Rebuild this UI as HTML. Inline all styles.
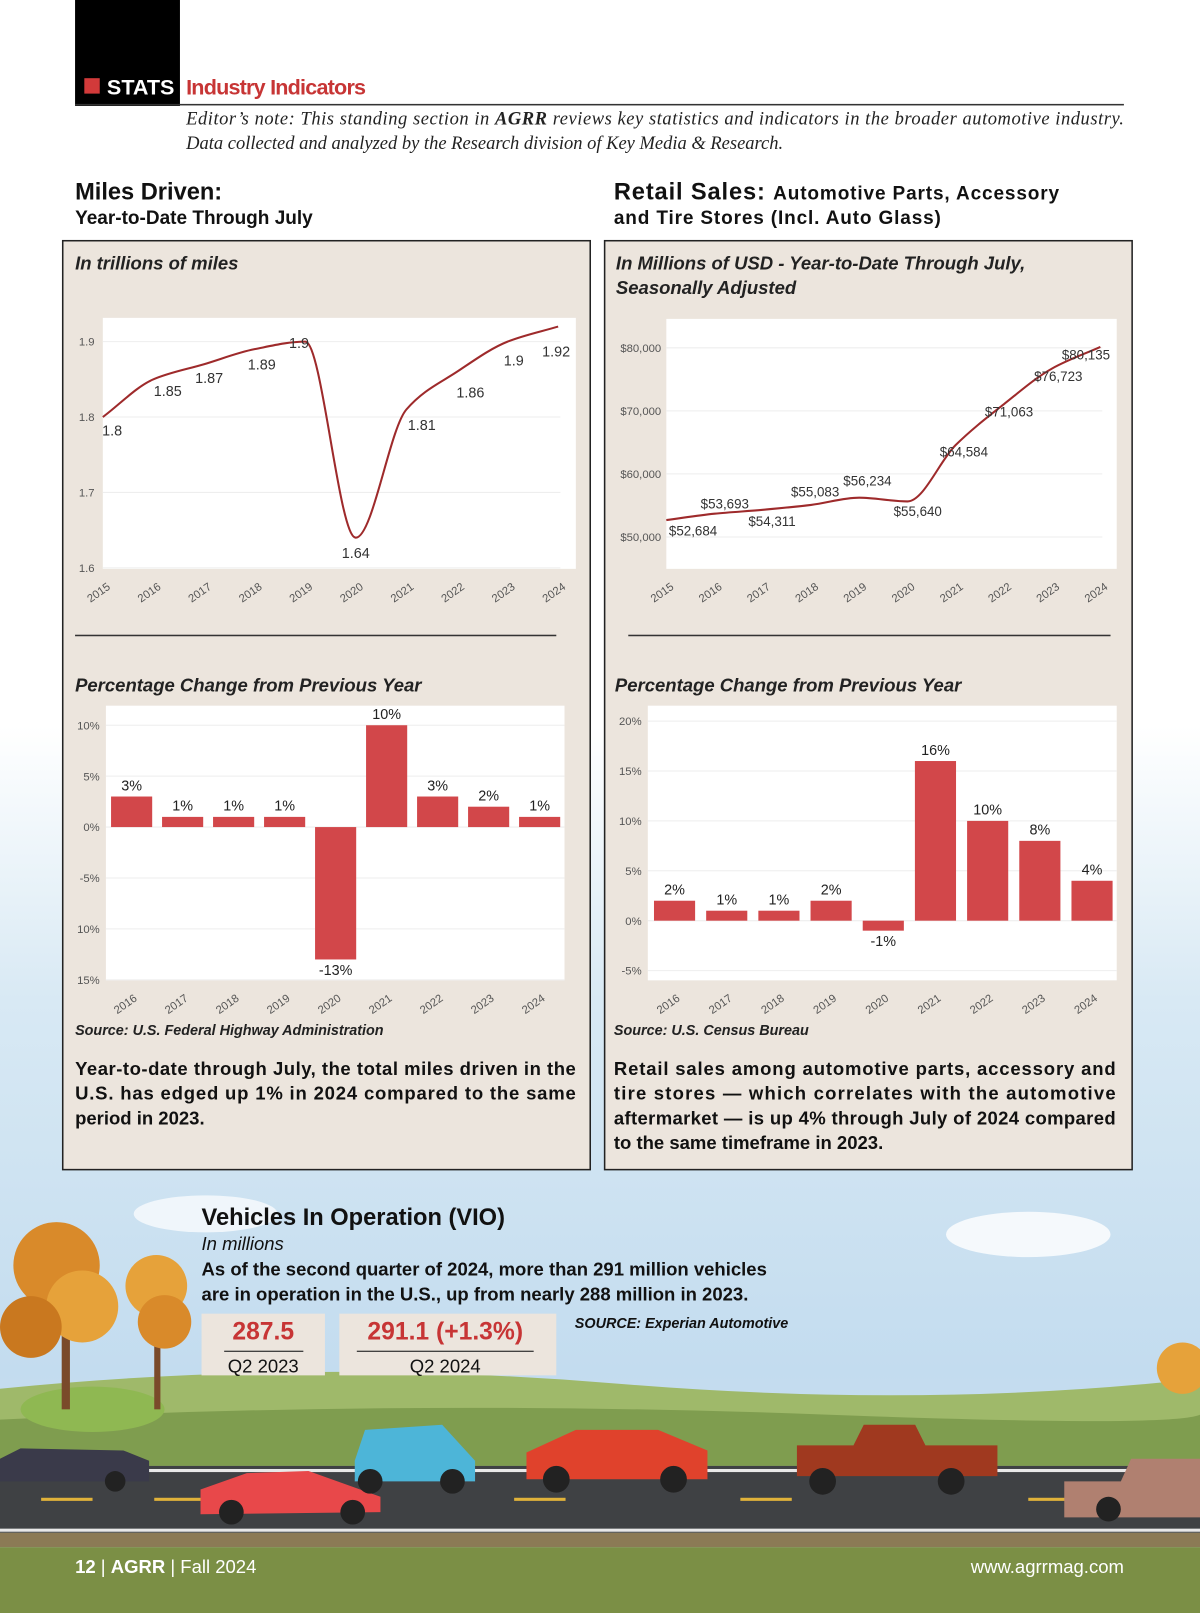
<!DOCTYPE html>
<html><head><meta charset="utf-8">
<style>
html,body{margin:0;padding:0;background:#fff;}
svg{display:block;}
text{font-family:"Liberation Sans",sans-serif;}
.it{font-style:italic;}
.b{font-weight:bold;}
</style></head>
<body>
<svg id="page" width="1200" height="1613" viewBox="0 0 1167 1568" preserveAspectRatio="none" xmlns="http://www.w3.org/2000/svg">
<defs>
<linearGradient id="sky" x1="0" y1="0" x2="0" y2="1">
<stop offset="0" stop-color="#ffffff"/><stop offset="0.45" stop-color="#ffffff"/><stop offset="0.62" stop-color="#d8e9f4"/><stop offset="0.85" stop-color="#c3dcef"/><stop offset="1" stop-color="#cfe3ef"/>
</linearGradient>
</defs>
<rect x="0" y="0" width="1167" height="1568" fill="url(#sky)"/>
<g>
<ellipse cx="1000" cy="1200" rx="80" ry="22" fill="#fff" opacity="0.8"/>
<ellipse cx="200" cy="1180" rx="70" ry="18" fill="#fff" opacity="0.7"/>
<path d="M0 1350 Q300 1320 600 1345 T1167 1340 L1167 1425 L0 1425Z" fill="#9fb96a"/>
<path d="M0 1380 Q400 1360 800 1375 T1167 1370 L1167 1425 L0 1425Z" fill="#7f9d4f"/>
<ellipse cx="90" cy="1370" rx="70" ry="22" fill="#8fb852"/>
<rect x="0" y="1425" width="1167" height="65" fill="#3f4144"/>
<rect x="0" y="1428" width="1167" height="3" fill="#e8e8e8"/>
<rect x="0" y="1486" width="1167" height="3" fill="#e8e8e8"/>
<g fill="#e0b23a"><rect x="40" y="1456" width="50" height="3"/><rect x="150" y="1456" width="50" height="3"/><rect x="500" y="1456" width="50" height="3"/><rect x="720" y="1456" width="50" height="3"/><rect x="1000" y="1456" width="50" height="3"/></g>
<rect x="0" y="1490" width="1167" height="14" fill="#8b7a55"/>
<rect x="0" y="1504" width="1167" height="64" fill="#7b8f45"/>
<rect x="60" y="1220" width="8" height="150" fill="#7a4a2a"/>
<circle cx="55" cy="1230" r="42" fill="#d98a2a"/><circle cx="80" cy="1270" r="35" fill="#e6a23a"/><circle cx="30" cy="1290" r="30" fill="#c9781f"/>
<rect x="150" y="1260" width="6" height="110" fill="#7a4a2a"/>
<circle cx="152" cy="1250" r="30" fill="#e6a23a"/><circle cx="160" cy="1285" r="26" fill="#d98a2a"/>
<circle cx="1150" cy="1330" r="25" fill="#e6a23a"/>
<g><path d="M0 1418 L20 1408 L120 1410 L145 1420 L145 1440 L0 1440Z" fill="#3a3a4a"/><circle cx="112" cy="1440" r="10" fill="#222"/></g>
<g><path d="M195 1448 L240 1432 L300 1430 L370 1455 L370 1470 L195 1472Z" fill="#e8484a"/><circle cx="225" cy="1470" r="12" fill="#222"/><circle cx="343" cy="1470" r="12" fill="#222"/></g>
<g><path d="M345 1420 L355 1390 L430 1385 L462 1420 L462 1440 L345 1440Z" fill="#4db5d8"/><circle cx="360" cy="1440" r="12" fill="#222"/><circle cx="440" cy="1440" r="12" fill="#222"/></g>
<g><path d="M512 1412 L560 1390 L640 1390 L688 1410 L688 1438 L512 1438Z" fill="#e0422c"/><circle cx="541" cy="1438" r="13" fill="#222"/><circle cx="655" cy="1438" r="13" fill="#222"/></g>
<g><path d="M775 1405 L830 1405 L840 1385 L890 1385 L900 1405 L970 1405 L970 1435 L775 1435Z" fill="#a0391f"/><circle cx="800" cy="1440" r="13" fill="#222"/><circle cx="925" cy="1440" r="13" fill="#222"/></g>
<g><path d="M1035 1440 L1090 1440 L1100 1418 L1167 1418 L1167 1475 L1035 1475Z" fill="#b08070"/><circle cx="1078" cy="1467" r="12" fill="#222"/></g>
</g>

<rect x="73" y="0" width="102" height="103" fill="#000"/>
<rect x="82" y="76" width="15" height="15" fill="#d23a3a"/>
<text x="104" y="92" fill="#fff" font-size="21" class="b">STATS</text>
<text x="181" y="92" fill="#c73535" font-size="21" class="b" textLength="175">Industry Indicators</text>
<rect x="73" y="101" width="1020" height="1.5" fill="#333"/>
<g font-style="italic" font-size="18" fill="#222">
<text x="181" y="121" style="font-family:'Liberation Serif',serif" textLength="912">Editor’s note: This standing section in <tspan font-weight="bold">AGRR</tspan> reviews key statistics and indicators in the broader automotive industry.</text>
<text x="181" y="145" style="font-family:'Liberation Serif',serif">Data collected and analyzed by the Research division of Key Media &amp; Research.</text>
</g>

<text x="73" y="194" font-size="23" class="b" fill="#111">Miles Driven:</text>
<text x="73" y="218" font-size="18.5" class="b" fill="#111">Year-to-Date Through July</text>
<text x="597" y="194" font-size="23" class="b" fill="#111" textLength="433">Retail Sales: <tspan font-size="18.5">Automotive Parts, Accessory</tspan></text>
<text x="597" y="218" font-size="18.5" class="b" fill="#111" textLength="318">and Tire Stores (Incl. Auto Glass)</text>

<rect x="61" y="234" width="513" height="903" fill="#ece5dd" stroke="#222" stroke-width="1.5"/>
<rect x="588" y="234" width="513" height="903" fill="#ece5dd" stroke="#222" stroke-width="1.5"/>

<text x="73" y="262" font-size="18" class="b it" fill="#222">In trillions of miles</text>
<text x="599" y="262" font-size="18" class="b it" fill="#222">In Millions of USD - Year-to-Date Through July,</text>
<text x="599" y="286" font-size="18" class="b it" fill="#222">Seasonally Adjusted</text>

<rect x="100" y="309" width="460" height="244" fill="#fff"/>
<rect x="648" y="310" width="438" height="243" fill="#fff"/>
<rect x="103" y="686" width="446" height="267" fill="#fff"/>
<rect x="630" y="686" width="456" height="267" fill="#fff"/>

<g id="charts"></g>

<rect x="73" y="617" width="468" height="1.5" fill="#333"/>
<rect x="611" y="617" width="469" height="1.5" fill="#333"/>
<text x="73" y="672" font-size="18" class="b it" fill="#222">Percentage Change from Previous Year</text>
<text x="598" y="672" font-size="18" class="b it" fill="#222">Percentage Change from Previous Year</text>

<text x="73" y="1006" font-size="14" class="b it" fill="#222">Source: U.S. Federal Highway Administration</text>
<text x="597" y="1006" font-size="14" class="b it" fill="#222">Source: U.S. Census Bureau</text>

<g font-size="18" class="b" fill="#111">
<text x="73" y="1045" textLength="487">Year-to-date through July, the total miles driven in the</text>
<text x="73" y="1069" textLength="487">U.S. has edged up 1% in 2024 compared to the same</text>
<text x="73" y="1093">period in 2023.</text>
</g>
<g font-size="18" class="b" fill="#111">
<text x="597" y="1045" textLength="488">Retail sales among automotive parts, accessory and</text>
<text x="597" y="1069" textLength="488">tire stores — which correlates with the automotive</text>
<text x="597" y="1093" textLength="488">aftermarket — is up 4% through July of 2024 compared</text>
<text x="597" y="1117">to the same timeframe in 2023.</text>
</g>

<text x="196" y="1191" font-size="23" class="b" fill="#111">Vehicles In Operation (VIO)</text>
<text x="196" y="1215" font-size="18" class="it" fill="#111">In millions</text>
<text x="196" y="1240" font-size="18" class="b" fill="#111">As of the second quarter of 2024, more than 291 million vehicles</text>
<text x="196" y="1264" font-size="18" class="b" fill="#111">are in operation in the U.S., up from nearly 288 million in 2023.</text>
<rect x="196" y="1277" width="120" height="60" fill="#ece5dd"/>
<rect x="330" y="1277" width="211" height="60" fill="#ece5dd"/>
<text x="256" y="1302" font-size="24" class="b" fill="#c73535" text-anchor="middle">287.5</text>
<rect x="218" y="1313" width="77" height="1.2" fill="#333"/>
<text x="256" y="1334" font-size="18" fill="#111" text-anchor="middle">Q2 2023</text>
<text x="433" y="1302" font-size="24" class="b" fill="#c73535" text-anchor="middle">291.1 (+1.3%)</text>
<rect x="347" y="1313" width="172" height="1.2" fill="#333"/>
<text x="433" y="1334" font-size="18" fill="#111" text-anchor="middle">Q2 2024</text>
<text x="559" y="1291" font-size="14" class="b it" fill="#111">SOURCE: Experian Automotive</text>

<text x="73" y="1529" font-size="18" fill="#fff"><tspan font-weight="bold">12</tspan> | <tspan font-weight="bold">AGRR</tspan>  |  Fall 2024</text>
<text x="1093" y="1529" font-size="18" fill="#fff" text-anchor="end">www.agrrmag.com</text>
</svg>

<script>
const milesYears = ["2015","2016","2017","2018","2019","2020","2021","2022","2023","2024"];
const milesValues = [1.8,1.85,1.87,1.89,1.9,1.64,1.81,1.86,1.9,1.92];
const milesTicks = [1.6,1.7,1.8,1.9];
const salesYears = ["2015","2016","2017","2018","2019","2020","2021","2022","2023","2024"];
const salesValues = [52684,53693,54311,55083,56234,55640,64584,71063,76723,80135];
const salesTicks = [50000,60000,70000,80000];
const pctYears = ["2016","2017","2018","2019","2020","2021","2022","2023","2024"];
const milesPct = [3,1,1,1,-13,10,3,2,1];
const milesPctTicks = [10,5,0,-5,-10,-15];
const milesPctTickLabels = ["10%","5%","0%","-5%","10%","15%"];
const salesPct = [2,1,1,2,-1,16,10,8,4];
const salesPctTicks = [20,15,10,5,0,-5];

const NS="http://www.w3.org/2000/svg";
const root=document.getElementById('charts');
function mk(tag,attrs,txt){const e=document.createElementNS(NS,tag);for(const k in attrs)e.setAttribute(k,attrs[k]);if(txt!==undefined)e.textContent=txt;root.appendChild(e);return e;}
function monotone(pts){
 const n=pts.length,dx=[],s=[],m=[];
 for(let i=0;i<n-1;i++){dx[i]=pts[i+1][0]-pts[i][0];s[i]=(pts[i+1][1]-pts[i][1])/dx[i];}
 m[0]=s[0];m[n-1]=s[n-2];
 for(let i=1;i<n-1;i++){m[i]=(s[i-1]*s[i]<=0)?0:(3*(dx[i-1]+dx[i]))/((2*dx[i]+dx[i-1])/s[i-1]+(dx[i]+2*dx[i-1])/s[i]);}
 let d="M"+pts[0][0]+" "+pts[0][1];
 for(let i=0;i<n-1;i++){const h=dx[i]/3;d+=` C${pts[i][0]+h} ${pts[i][1]+m[i]*h} ${pts[i+1][0]-h} ${pts[i+1][1]-m[i+1]*h} ${pts[i+1][0]} ${pts[i+1][1]}`;}
 return d;
}

const mx=i=>100+i*49.2, my=v=>552-(v-1.6)*733;
milesTicks.forEach(t=>{
 const g=mk('line',{x1:100,x2:545,y1:my(t),y2:my(t),stroke:'#eee'});
 
 
 const l=mk('text',{x:92,y:my(t)+4,'font-size':11,fill:'#555','text-anchor':'end'},t.toFixed(1));
 
 
});
milesYears.forEach((y,i)=>{
 const t=mk('text',{x:mx(i)+8,y:572,'font-size':11,fill:'#555','text-anchor':'end',transform:`rotate(-35 ${mx(i)+8} 572)`},y);
 
 
});
const ml=mk('path',{d:monotone(milesValues.map((v,i)=>[mx(i),my(v)])),fill:'none',stroke:'#9e2a2b','stroke-width':2});


const mOff=[[9,13],[14,11],[5,13],[7,15],[-6,1],[0,15],[15,15],[13,20],[6,18],[-2,24]];
milesValues.forEach((v,i)=>{
 const t=mk('text',{x:mx(i)+mOff[i][0],y:my(v)+mOff[i][1]+5,'font-size':14,fill:'#333','text-anchor':'middle'},String(v));
 
 
});

const sx=i=>648+i*46.9, sy=v=>522-(v-50000)*0.00613;
salesTicks.forEach(t=>{
 const g=mk('line',{x1:648,x2:1072,y1:sy(t),y2:sy(t),stroke:'#eee'});
 
 
 const l=mk('text',{x:643,y:sy(t)+4,'font-size':11,fill:'#555','text-anchor':'end'},'$'+t.toLocaleString('en-US'));
 
 
});
salesYears.forEach((y,i)=>{
 const t=mk('text',{x:sx(i)+8,y:572,'font-size':11,fill:'#555','text-anchor':'end',transform:`rotate(-35 ${sx(i)+8} 572)`},y);
 
 
});
const sl=mk('path',{d:monotone(salesValues.map((v,i)=>[sx(i),sy(v)])),fill:'none',stroke:'#9e2a2b','stroke-width':2});


const sOff=[[26,10],[10,-10],[9,11],[4,-13],[8,-17],[10,9],[8,6],[5,7],[6,7],[-14,7]];
salesValues.forEach((v,i)=>{
 const t=mk('text',{x:sx(i)+sOff[i][0],y:sy(v)+sOff[i][1]+5,'font-size':13,fill:'#333','text-anchor':'middle'},'$'+v.toLocaleString('en-US'));
 
 
});

function bars(vals,ticks,tickLabels,x0,step,zeroY,ppu,left,right,prefix){
 ticks.forEach((t,k)=>{
  const y=zeroY-t*ppu;
  const g=mk('line',{x1:left,x2:right,y1:y,y2:y,stroke:'#eee'});
  
  
  const l=mk('text',{x:left-6,y:y+4,'font-size':11,fill:'#555','text-anchor':'end'},tickLabels[k]);
  
  
 });
 vals.forEach((v,i)=>{
  const cx=x0+i*step, y=zeroY-Math.max(v,0)*ppu, h=Math.abs(v)*ppu;
  const r=mk('rect',{x:cx-20,y:y,width:40,height:h,fill:'#d2474a'});
  
  
  const ly=v>=0?y-6:zeroY+h+15;
  const t=mk('text',{x:cx,y:ly,'font-size':14,fill:'#222','text-anchor':'middle'},v+'%');
  
  
  const xl=mk('text',{x:cx+6,y:972,'font-size':11,fill:'#555','text-anchor':'end',transform:`rotate(-35 ${cx+6} 972)`},pctYears[i]);
  
  
 });
}
bars(milesPct,milesPctTicks,milesPctTickLabels,128,49.6,804,9.9,103,549,'miles-pct');
bars(salesPct,salesPctTicks,salesPctTicks.map(t=>t+'%'),656,50.75,895,9.7,630,1086,'sales-pct');
</script>
</body></html>
